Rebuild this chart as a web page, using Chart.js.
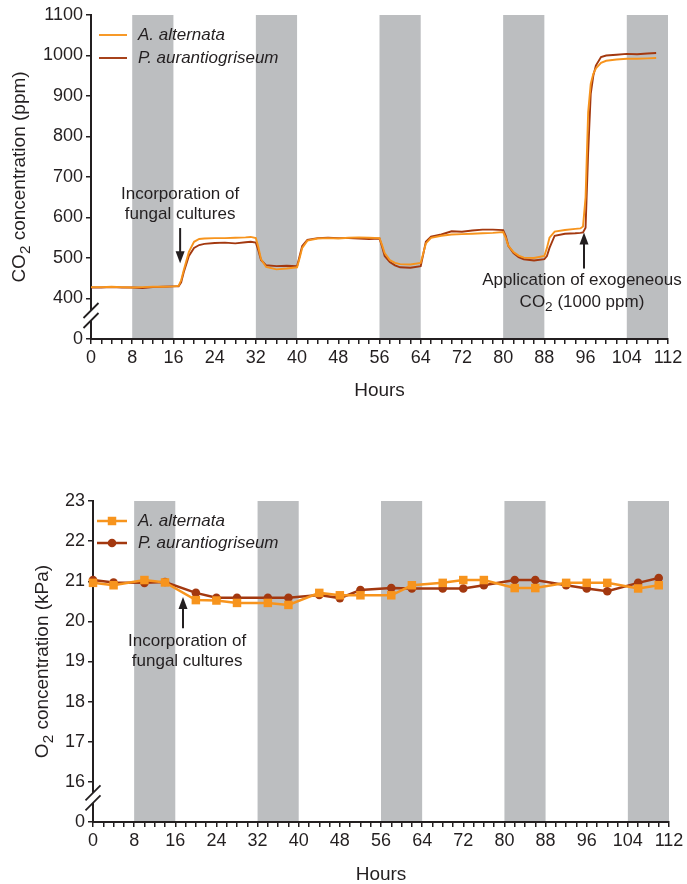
<!DOCTYPE html>
<html>
<head>
<meta charset="utf-8">
<script src="https://cdn.jsdelivr.net/npm/chart.js@4.4.0/dist/chart.umd.min.js"></script>
<style>
  html, body { margin: 0; padding: 0; background: #fff; }
  #wrap { position: relative; width: 687px; height: 884px; }
  canvas { position: absolute; left: 0; }
  #co2Chart { top: 0; }
  #o2Chart { top: 442px; }
</style>
</head>
<body>
<div id="wrap">
  <canvas id="co2Chart" width="687" height="442"></canvas>
  <canvas id="o2Chart" width="687" height="442"></canvas>
</div>
<script>
// DATA
// ============================================================
// light (white) / dark (grey) periods, hours
const NIGHT_START = [8, 32, 56, 80, 104];
const NIGHT_END   = [16, 40, 64, 88, 112];

const SERIES_NAMES = ['A. alternata', 'P. aurantiogriseum'];

// CO2 trace, hours since start
const CO2_HOURS = [0,2,4,6,8,10,12,14,16, 17,17.5,18,19,20,21,22, 24,26,28,30,31,32,
  32.5,33,34,36,38,40, 40.5,41,42,44,46,48,50,52,54,56, 56.5,57,58,59,60,62,64,
  64.5,65,66,68,70,72,74,76,78,80, 80.5,81,82,83,84,86,88, 88.5,89,90,92,94,95,
  95.5,96,96.5,97,97.5,98,99,100, 102,104,106,108,109.7];
const CO2_ALT = [428,428,429,428,427,428,429,429,430, 431,445,470,515,540,547,548, 549,549,550,551,552,549,
  526,497,478,472,474,477, 500,525,543,548,549,548,550,551,550,549, 532,512,495,488,485,484,488,
  512,536,550,555,558,559,560,561,562,564, 550,530,515,506,501,500,505, 525,550,565,569,572,573,
  578,650,860,930,955,968,982,987, 990,992,992,993,994];
const CO2_PEN = [427,427,428,427,427,426,428,429,430, 430,440,465,505,525,532,535, 537,538,536,539,540,538,
  518,495,482,480,481,480, 505,530,545,549,550,549,549,548,547,548, 528,505,490,482,477,476,480,
  510,540,553,558,566,565,568,570,570,569, 555,530,512,502,497,494,497, 505,525,555,560,561,562,
  563,575,760,905,950,975,996,1000, 1002,1004,1003,1005,1006];

// O2 samples
const O2_HOURS = [0,4,10,14,20,24,28,34,38,44,48,52,58,62,68,72,76,82,86,92,96,100,106,110];
const O2_ALT = [20.96,20.9,21.03,20.97,20.53,20.52,20.46,20.46,20.41,20.71,20.65,20.65,
  20.65,20.9,20.96,21.03,21.03,20.83,20.83,20.96,20.96,20.96,20.82,20.9];
const O2_PEN = [21.03,20.97,20.96,20.98,20.71,20.59,20.59,20.59,20.59,20.66,20.58,20.78,
  20.83,20.82,20.82,20.82,20.9,21.03,21.03,20.9,20.82,20.75,20.96,21.08];

// axis ticks: the lowest tick sits below a break and reads "0"
const X_MAX = 112, X_STEP = 2, X_LABEL_EVERY = 8;
const CO2_MIN = 300, CO2_MAX = 1100, CO2_STEP = 100;
const O2_MIN = 15, O2_MAX = 23, O2_STEP = 1;

// STYLE
// ============================================================
const INK = '#231f20';
const ORANGE = '#f7941d';
const BROWN = '#a3380f';
const NIGHT = '#bcbec0';
const FONT = "'Liberation Sans', Arial, sans-serif";

Chart.defaults.font.family = FONT;
Chart.defaults.color = INK;

const toPoints = (xs, ys) => xs.map((x, i) => ({ x, y: ys[i] }));

// text with subscripts: a line is a list of [text, isSub] parts
function drawRich(ctx, parts, x, y, size) {
  const fontFor = sub => `${sub ? size * 0.8 : size}px ${FONT}`;
  let total = 0;
  parts.forEach(([t, sub]) => { ctx.font = fontFor(sub); total += ctx.measureText(t).width; });
  let cx = x - total / 2;
  ctx.textAlign = 'left';
  ctx.textBaseline = 'middle';
  parts.forEach(([t, sub]) => {
    ctx.font = fontFor(sub);
    ctx.fillText(t, cx, y + (sub ? size * 0.28 : 0));
    cx += ctx.measureText(t).width;
  });
}

// PLUGINS
// ============================================================
const nightBands = {
  id: 'nightBands',
  beforeDraw(chart) {
    const { ctx, chartArea: a, scales: { x } } = chart;
    ctx.save();
    ctx.fillStyle = NIGHT;
    NIGHT_START.forEach((s, i) => {
      const x0 = x.getPixelForValue(s), x1 = x.getPixelForValue(NIGHT_END[i]);
      ctx.fillRect(x0, a.top, x1 - x0, a.bottom - a.top);
    });
    ctx.restore();
  }
};

const axisBreak = {
  id: 'axisBreak',
  afterDraw(chart, args, opts) {
    const { ctx, scales: { y } } = chart;
    const cy = y.getPixelForValue(opts.at);
    const cx = y.right;
    ctx.save();
    ctx.fillStyle = '#fff';
    ctx.fillRect(cx - 3, cy - 5, 6, 10);
    ctx.strokeStyle = INK;
    ctx.lineWidth = 1.8;
    [-5, 5].forEach(d => {
      ctx.beginPath();
      ctx.moveTo(cx - 7.5, cy + d + 7.5);
      ctx.lineTo(cx + 7.5, cy + d - 7.5);
      ctx.stroke();
    });
    ctx.restore();
  }
};

// rotated y title drawn by hand so the subscript looks right
const yTitle = {
  id: 'yTitle',
  afterDraw(chart, args, opts) {
    const { ctx, scales: { y } } = chart;
    ctx.save();
    ctx.fillStyle = INK;
    ctx.translate(opts.x, (y.top + y.bottom) / 2);
    ctx.rotate(-Math.PI / 2);
    drawRich(ctx, opts.parts, 0, 0, 19);
    ctx.restore();
  }
};

const notes = {
  id: 'notes',
  afterDatasetsDraw(chart, args, opts) {
    const { ctx, scales: { x, y } } = chart;
    ctx.save();
    ctx.fillStyle = INK;
    ctx.strokeStyle = INK;
    opts.items.forEach(n => {
      const tx = x.getPixelForValue(n.textX);
      n.lines.forEach((parts, i) => drawRich(ctx, parts, tx, y.getPixelForValue(n.lineY[i]), 17));
      const ax = x.getPixelForValue(n.arrowX);
      const y0 = y.getPixelForValue(n.tail), y1 = y.getPixelForValue(n.tip);
      const dir = Math.sign(y1 - y0);
      ctx.lineWidth = 2;
      ctx.beginPath();
      ctx.moveTo(ax, y0);
      ctx.lineTo(ax, y1 - dir * 8);
      ctx.stroke();
      ctx.beginPath();
      ctx.moveTo(ax, y1);
      ctx.lineTo(ax - 4.5, y1 - dir * 12);
      ctx.lineTo(ax + 4.5, y1 - dir * 12);
      ctx.closePath();
      ctx.fill();
    });
    ctx.restore();
  }
};

const insetLegend = {
  id: 'insetLegend',
  afterDraw(chart, args, opts) {
    const { ctx } = chart;
    ctx.save();
    chart.data.datasets.forEach((ds, i) => {
      const y = opts.y + i * opts.gap;
      ctx.strokeStyle = ds.borderColor;
      ctx.lineWidth = ds.borderWidth;
      ctx.beginPath();
      ctx.moveTo(opts.x, y);
      ctx.lineTo(opts.x + opts.len, y);
      ctx.stroke();
      if (ds.pointRadius > 0) {
        const mx = opts.x + opts.len / 2;
        ctx.fillStyle = ds.pointBackgroundColor;
        ctx.beginPath();
        if (ds.pointStyle === 'rect') {
          const h = ds.pointRadius * Math.SQRT1_2;
          ctx.rect(mx - h, y - h, 2 * h, 2 * h);
        } else {
          ctx.arc(mx, y, ds.pointRadius, 0, Math.PI * 2);
        }
        ctx.fill();
      }
      ctx.fillStyle = INK;
      ctx.font = `italic 17px ${FONT}`;
      ctx.textAlign = 'left';
      ctx.textBaseline = 'middle';
      ctx.fillText(ds.label, opts.x + opts.len + 11, y);
    });
    ctx.restore();
  }
};

// SHARED OPTIONS
// ============================================================
function chartOptions(cfg) {
  return {
    responsive: false,
    animation: false,
    devicePixelRatio: 1,
    events: [],
    layout: { padding: { left: 0, top: cfg.top, right: cfg.right, bottom: 0 } },
    scales: {
      x: {
        type: 'linear', min: 0, max: X_MAX,
        afterFit: s => { s.height = cfg.xHeight; },
        grid: { drawOnChartArea: false, drawTicks: true, tickLength: 5, color: INK, lineWidth: 1.5 },
        border: { display: true, color: INK, width: 2 },
        ticks: {
          stepSize: X_STEP, autoSkip: false, maxRotation: 0, padding: 3,
          font: { size: 18 }, color: INK,
          callback: v => (v % X_LABEL_EVERY === 0 ? String(v) : '')
        },
        title: {
          display: true, text: 'Hours', color: INK,
          font: { size: 19, lineHeight: 1 },
          padding: { top: 0, bottom: cfg.hoursPad }
        }
      },
      y: {
        min: cfg.yMin, max: cfg.yMax,
        afterFit: s => { s.width = cfg.yWidth; },
        grid: { drawOnChartArea: false, drawTicks: true, tickLength: 5, color: INK, lineWidth: 1.5 },
        border: { display: true, color: INK, width: 2 },
        ticks: {
          stepSize: cfg.yStep, padding: 3, font: { size: 18 }, color: INK,
          callback: v => (v === cfg.yMin ? '0' : String(v))
        },
        title: { display: false }
      }
    },
    plugins: {
      legend: { display: false },
      tooltip: { enabled: false },
      axisBreak: { at: cfg.breakAt },
      yTitle: { x: cfg.yTitleX, parts: cfg.yTitle },
      insetLegend: cfg.legend,
      notes: { items: cfg.notes }
    }
  };
}

// CO2 CHART
// ============================================================
new Chart(document.getElementById('co2Chart'), {
  type: 'line',
  data: {
    datasets: [
      { label: SERIES_NAMES[0], data: toPoints(CO2_HOURS, CO2_ALT), borderColor: ORANGE, borderWidth: 1.9, pointRadius: 0, tension: 0 },
      { label: SERIES_NAMES[1], data: toPoints(CO2_HOURS, CO2_PEN), borderColor: BROWN, borderWidth: 1.9, pointRadius: 0, tension: 0 }
    ]
  },
  options: chartOptions({
    top: 15, right: 19, xHeight: 103, yWidth: 91, hoursPad: 42,
    yMin: CO2_MIN, yMax: CO2_MAX, yStep: CO2_STEP,
    yTitleX: 20,
    yTitle: [['CO'], ['2', true], [' concentration (ppm)']],
    breakAt: 358,
    legend: { x: 99, y: 35, gap: 23, len: 28 },
    notes: [
      { lines: [[['Incorporation of']], [['fungal cultures']]], textX: 17.3, lineY: [658, 609],
        arrowX: 17.3, tail: 574, tip: 487 },
      { lines: [[['Application of exogeneous']], [['CO'], ['2', true], [' (1000 ppm)']]], textX: 95.3, lineY: [446, 391],
        arrowX: 95.7, tail: 474, tip: 563 }
    ]
  }),
  plugins: [nightBands, axisBreak, notes, insetLegend, yTitle]
});

// O2 CHART
// ============================================================
new Chart(document.getElementById('o2Chart'), {
  type: 'line',
  data: {
    datasets: [
      { label: SERIES_NAMES[0], data: toPoints(O2_HOURS, O2_ALT), borderColor: ORANGE, backgroundColor: ORANGE,
        pointBackgroundColor: ORANGE, pointBorderWidth: 0, pointStyle: 'rect', pointRadius: 6, borderWidth: 2.5, tension: 0, clip: false },
      { label: SERIES_NAMES[1], data: toPoints(O2_HOURS, O2_PEN), borderColor: BROWN, backgroundColor: BROWN,
        pointBackgroundColor: BROWN, pointBorderWidth: 0, pointStyle: 'circle', pointRadius: 4.3, borderWidth: 2.5, tension: 0, clip: false }
    ]
  },
  options: chartOptions({
    top: 59, right: 18, xHeight: 62, yWidth: 93, hoursPad: 0,
    yMin: O2_MIN, yMax: O2_MAX, yStep: O2_STEP,
    yTitleX: 43,
    yTitle: [['O'], ['2', true], [' concentration (kPa)']],
    breakAt: 15.6,
    legend: { x: 97, y: 79, gap: 22, len: 30 },
    notes: [
      { lines: [[['Incorporation of']], [['fungal cultures']]], textX: 18.3, lineY: [19.51, 19.01],
        arrowX: 17.5, tail: 19.83, tip: 20.61 }
    ]
  }),
  plugins: [nightBands, axisBreak, notes, insetLegend, yTitle]
});
</script>
</body>
</html>
